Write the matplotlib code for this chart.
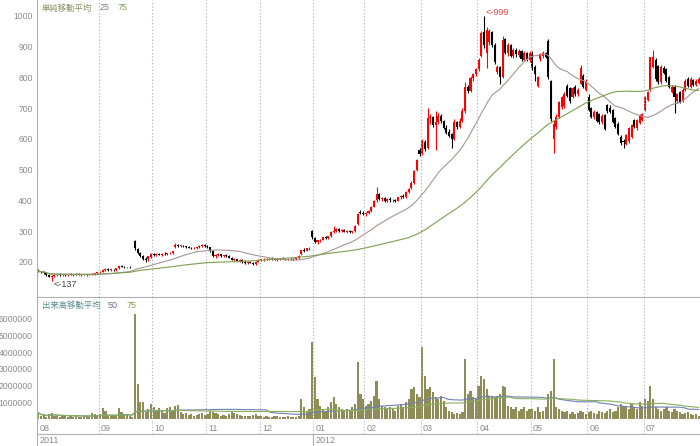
"""
    株価チャート（日足ローソク足＋出来高）の再現
"""
import numpy as np
import pandas as pd
import matplotlib
matplotlib.use('Agg')
import matplotlib.pyplot as plt

plt.rcParams['font.family'] = ['Noto Sans CJK JP', 'DejaVu Sans']

# 営業日（2011/08 - 2012/07、東証休場日を除く）
holidays = ['2011-09-19', '2011-09-23', '2011-10-10', '2011-11-03', '2011-11-23',
            '2011-12-23', '2011-12-30', '2012-01-02', '2012-01-03', '2012-01-09',
            '2012-03-20', '2012-04-30', '2012-05-03', '2012-05-04', '2012-07-16']
dates = pd.bdate_range('2011-08-01', '2012-07-31')
dates = dates[~dates.isin(pd.to_datetime(holidays))]

# 四本値（月ごとに1行）
opens = [
    172, 170, 167, 163, 157, 150, 155, 157, 160, 157, 159, 158, 160, 158, 161, 160, 158, 160, 158, 159, 160, 161, 163,
    166, 168, 174, 178, 174, 175, 173, 179, 186, 184, 182, 183, 228, 268, 242, 230, 218, 210, 208, 216,
    226, 222, 226, 223, 227, 225, 228, 230, 248, 256, 252, 253, 251, 248, 247, 245, 246, 248, 252, 256,
    252, 248, 236, 218, 222, 225, 218, 221, 219, 214, 207, 209, 204, 206, 200, 197, 201, 198, 193, 201,
    206, 208, 210, 209, 211, 210, 207, 210, 212, 210, 208, 211, 209, 208, 212, 225, 238, 236, 244, 300,
    278, 265, 270, 272, 280, 278, 284, 298, 300, 306, 300, 303, 299, 301, 296, 300, 322, 362, 360,
    356, 358, 366, 380, 400, 420, 404, 408, 398, 405, 400, 403, 398, 410, 415, 410, 428, 440, 458, 500, 565,
    552, 590, 570, 668, 670, 645, 655, 675, 658, 636, 622, 615, 600, 655, 638, 660, 690, 770, 755, 798, 810,
    826, 870, 948, 880, 915, 948, 906, 818, 834, 800, 925, 880, 905, 870, 890, 872, 885, 858, 880, 858,
    880, 835, 772, 860, 870, 880, 918, 790, 600, 640, 672, 705, 708, 772, 765, 738, 770, 745, 780, 805, 760,
    735, 700, 672, 688, 680, 655, 678, 710, 700, 694, 668, 650, 607, 595, 584, 592, 606, 662, 636, 652, 662,
    695, 727, 758, 835, 858, 836, 786, 832, 826, 802, 752, 770, 722, 752, 725, 760, 796, 770, 792, 776, 782,
]
highs = [
    176, 172, 170, 166, 160, 158, 160, 162, 163, 161, 162, 161, 163, 162, 164, 163, 161, 162, 161, 162, 163, 165, 168,
    170, 176, 180, 180, 177, 178, 180, 188, 190, 186, 185, 186, 228, 270, 245, 232, 222, 215, 220, 228,
    230, 228, 229, 228, 231, 230, 233, 236, 262, 258, 256, 256, 253, 252, 250, 249, 250, 255, 260, 258,
    254, 250, 238, 225, 228, 227, 224, 226, 222, 216, 212, 211, 210, 208, 205, 203, 204, 200, 203, 208,
    210, 212, 214, 213, 215, 213, 212, 214, 215, 213, 212, 214, 212, 213, 222, 240, 244, 246, 250, 305,
    280, 272, 275, 282, 285, 286, 300, 318, 310, 310, 306, 306, 304, 303, 302, 320, 360, 370, 365,
    362, 370, 382, 402, 444, 424, 412, 410, 408, 410, 406, 406, 412, 418, 422, 430, 440, 462, 500, 535, 570,
    600, 596, 700, 680, 675, 690, 685, 680, 662, 645, 632, 620, 665, 660, 668, 700, 785, 775, 805, 815, 832,
    862, 950, 999, 965, 958, 952, 912, 840, 838, 935, 930, 912, 910, 895, 895, 892, 888, 885, 884, 885,
    885, 840, 805, 880, 885, 884, 925, 792, 662, 680, 725, 740, 752, 778, 770, 770, 775, 765, 842, 810, 795,
    745, 705, 695, 692, 686, 680, 680, 715, 712, 698, 672, 655, 612, 600, 616, 640, 650, 666, 665, 680, 685,
    740, 756, 868, 890, 862, 840, 842, 838, 830, 806, 775, 775, 750, 756, 765, 795, 800, 800, 796, 795, 800,
]
lows = [
    168, 165, 162, 155, 150, 137, 150, 154, 155, 153, 155, 154, 156, 155, 157, 156, 155, 156, 155, 156, 157, 158, 160,
    163, 166, 170, 172, 170, 171, 172, 177, 182, 179, 179, 180, 228, 240, 225, 215, 205, 200, 204, 212,
    218, 219, 221, 220, 223, 222, 225, 226, 246, 250, 248, 249, 246, 245, 243, 242, 243, 246, 249, 250,
    245, 232, 215, 214, 218, 216, 215, 217, 212, 205, 203, 202, 200, 198, 194, 192, 195, 190, 191, 199,
    203, 204, 206, 205, 207, 205, 204, 206, 208, 206, 205, 207, 205, 206, 210, 224, 232, 234, 240, 275,
    262, 260, 266, 270, 275, 276, 282, 295, 296, 298, 297, 297, 295, 294, 294, 298, 320, 355, 352,
    350, 355, 362, 378, 396, 400, 398, 395, 394, 396, 394, 396, 397, 405, 408, 408, 425, 436, 455, 495, 545,
    548, 560, 566, 648, 640, 565, 648, 652, 632, 615, 605, 570, 596, 632, 635, 655, 685, 750, 752, 790, 805,
    820, 865, 895, 830, 905, 900, 845, 812, 780, 798, 875, 870, 865, 862, 868, 865, 855, 852, 852, 850,
    825, 790, 768, 855, 862, 862, 795, 660, 555, 632, 668, 698, 702, 735, 718, 732, 740, 740, 778, 765, 755,
    690, 668, 665, 655, 648, 650, 628, 686, 684, 652, 636, 612, 582, 570, 580, 588, 602, 636, 630, 648, 658,
    690, 722, 755, 830, 790, 780, 780, 812, 785, 765, 748, 685, 718, 716, 720, 756, 768, 765, 772, 772, 778,
]
closes = [
    170, 167, 164, 158, 152, 155, 158, 160, 157, 159, 158, 160, 158, 161, 160, 158, 160, 158, 159, 160, 161, 163, 166,
    168, 174, 178, 174, 175, 173, 179, 186, 185, 182, 183, 182, 228, 245, 228, 218, 210, 205, 218, 225,
    222, 226, 223, 227, 225, 228, 230, 234, 256, 252, 253, 251, 248, 247, 245, 246, 248, 252, 256, 252,
    248, 235, 218, 222, 225, 218, 221, 219, 214, 207, 209, 204, 206, 200, 197, 201, 198, 193, 201, 206,
    208, 210, 209, 211, 210, 207, 210, 212, 210, 208, 211, 209, 208, 212, 220, 238, 236, 244, 247, 280,
    265, 270, 272, 280, 278, 284, 298, 300, 306, 300, 303, 299, 301, 296, 300, 318, 355, 360, 356,
    358, 366, 378, 398, 422, 404, 408, 398, 405, 400, 403, 398, 410, 415, 410, 428, 436, 458, 495, 530, 550,
    592, 566, 668, 672, 645, 655, 675, 658, 636, 620, 610, 600, 655, 638, 660, 690, 770, 755, 798, 810, 826,
    856, 945, 905, 955, 950, 906, 850, 834, 800, 922, 880, 905, 870, 890, 875, 885, 860, 880, 858, 878,
    830, 810, 800, 875, 880, 868, 800, 665, 650, 672, 720, 735, 745, 740, 722, 765, 745, 760, 830, 770, 790,
    695, 672, 688, 660, 655, 675, 632, 690, 688, 656, 640, 615, 586, 590, 612, 635, 646, 640, 662, 676, 680,
    737, 753, 865, 866, 795, 785, 835, 816, 790, 770, 770, 735, 746, 720, 760, 790, 772, 795, 776, 790, 795,
]
# 出来高（株）
volumes = [
    380000, 150000, 220000, 100000, 300000, 380000, 200000, 150000, 100000, 200000, 150000, 120000,
    180000, 100000, 150000, 120000, 100000, 200000, 150000, 100000, 330000, 300000, 250000,
    300000, 650000, 500000, 250000, 200000, 250000, 200000, 650000, 400000, 300000, 300000, 150000,
    100000, 6300000, 2100000, 1000000, 1000000, 400000, 600000, 900000,
    700000, 500000, 650000, 550000, 350000, 650000, 700000, 500000, 800000, 850000, 400000, 300000,
    350000, 250000, 300000, 200000, 250000, 300000, 350000, 250000,
    300000, 450000, 400000, 350000, 300000, 200000, 250000, 200000, 300000, 400000, 350000, 300000,
    250000, 200000, 150000, 200000, 150000, 250000, 300000, 200000,
    150000, 100000, 150000, 120000, 100000, 200000, 150000, 100000, 120000, 100000, 150000, 100000,
    120000, 100000, 150000, 1200000, 700000, 500000, 600000, 4600000,
    2500000, 1200000, 800000, 600000, 500000, 700000, 1000000, 1300000, 900000, 700000, 600000, 500000,
    600000, 500000, 700000, 900000, 3400000, 1500000, 1200000,
    800000, 900000, 1100000, 1400000, 2300000, 1200000, 800000, 700000, 600000, 700000, 600000, 500000,
    800000, 900000, 700000, 1000000, 1200000, 1800000, 1900000, 1500000, 1300000,
    4300000, 2600000, 1800000, 1900000, 1600000, 1300000, 1200000, 1400000, 1100000, 700000, 500000,
    400000, 300000, 350000, 300000, 400000, 3600000, 1500000, 1700000, 1300000, 1200000,
    2000000, 2600000, 2400000, 1800000, 1400000, 1400000, 1300000, 1400000, 1500000, 2000000, 1900000,
    800000, 700000, 600000, 700000, 500000, 600000, 700000, 500000, 600000,
    600000, 500000, 700000, 400000, 500000, 700000, 1500000, 1700000, 3600000, 700000, 600000, 500000,
    400000, 500000, 300000, 400000, 300000, 350000, 500000, 400000, 300000,
    400000, 500000, 350000, 300000, 450000, 400000, 350000, 500000, 600000, 400000, 500000, 700000,
    900000, 800000, 700000, 600000, 900000, 700000, 600000, 1000000, 800000,
    1200000, 1100000, 2000000, 1200000, 700000, 600000, 500000, 600000, 700000, 500000, 400000, 600000,
    500000, 400000, 300000, 350000, 400000, 300000, 250000, 300000, 200000,
]

price_ma_windows = [25, 75]
volume_ma_windows = [50, 75]

n = len(dates)
assert len(opens) == len(highs) == len(lows) == len(closes) == len(volumes) == n

o = np.array(opens, dtype=float)
h = np.array(highs, dtype=float)
l = np.array(lows, dtype=float)
c = np.array(closes, dtype=float)
v = np.array(volumes, dtype=float)
x = np.arange(n)

W, H = 700, 446
fig = plt.figure(figsize=(W / 100, H / 100), dpi=100)
ax_p = fig.add_axes([37 / W, 1 - 297 / H, 663 / W, 297 / H])
ax_v = fig.add_axes([37 / W, 1 - 422 / H, 663 / W, 124 / H])
ax_d = fig.add_axes([37 / W, 0, 663 / W, 24 / H])

num_font = ['Liberation Sans', 'DejaVu Sans']
grid_kw = dict(color='#aaaaaa', lw=0.8, linestyle=(0, (1, 2)))
line_col = '#b0b0b0'
tick_col = '#8a8a8a'

# ローソク足
up = c >= o
cols = np.where(up, '#ff0000', '#000000')
ax_p.vlines(x, l, h, colors=cols, lw=0.8)
ax_p.bar(x, np.maximum(np.abs(c - o), 2), bottom=np.minimum(o, c), width=0.75,
         color=cols, linewidth=0)

# 移動平均
cs = pd.Series(c)
ax_p.plot(x, cs.rolling(price_ma_windows[0], min_periods=1).mean(), color='#a89494', lw=0.8)
ax_p.plot(x, cs.rolling(price_ma_windows[1], min_periods=1).mean(), color='#7d9e4e', lw=0.8)

# 高値・安値
i_hi = int(np.argmax(h))
i_lo = int(np.argmin(l))
ax_p.annotate('<-%d' % h[i_hi], (i_hi, h[i_hi]), xytext=(1, 3), textcoords='offset points',
              fontsize=6.5, color='#d04848', ha='left', va='center', family=num_font)
ax_p.annotate('<-%d' % l[i_lo], (i_lo, l[i_lo]), xytext=(1, -2), textcoords='offset points',
              fontsize=6.5, color='#444444', ha='left', va='center', family=num_font)

ax_p.set_ylim(86, 1052)
ax_p.set_yticks([200, 300, 400, 500, 600, 700, 800, 900, 1000])

# 出来高
ax_v.bar(x, v, width=0.8, color='#8e8c57', linewidth=0)
vs = pd.Series(v)
ax_v.plot(x, vs.rolling(volume_ma_windows[0], min_periods=1).mean(), color='#7080b0', lw=0.8)
ax_v.plot(x, vs.rolling(volume_ma_windows[1], min_periods=1).mean(), color='#8aae5a', lw=0.8)
ax_v.set_ylim(-0.18e6, 7.25e6)
ax_v.set_yticks([1000000, 2000000, 3000000, 4000000, 5000000, 6000000])
ax_v.set_yticklabels(['%d' % t for t in ax_v.get_yticks()])

# 月区切り
month_start = np.where(dates.month != np.roll(dates.month, 1))[0]
for a in (ax_p, ax_v, ax_d):
    a.set_xlim(-0.5, n - 0.5)
    a.set_xticks([])
    for s in ('top', 'right'):
        a.spines[s].set_visible(False)
    a.spines['left'].set_color(line_col)
    a.spines['bottom'].set_color(line_col)
    a.tick_params(axis='y', length=0, pad=3, labelsize=6.2, labelcolor=tick_col)
    for t in a.get_yticklabels():
        t.set_fontfamily(num_font)
for i in month_start[1:]:
    ax_p.axvline(i - 0.5, **grid_kw)
    ax_v.axvline(i - 0.5, **grid_kw)
    ax_d.axvline(i - 0.5, ymin=0.5, ymax=1, **grid_kw)

ax_d.set_ylim(0, 1)
ax_d.set_yticks([])
ax_d.spines['bottom'].set_visible(False)
ax_d.axhline(0.5, color=line_col, lw=0.8)
for i in month_start:
    ax_d.text(i - 0.5 + 0.8, 0.74, dates[i].strftime('%m'), fontsize=6.5,
              color=tick_col, ha='left', va='center', family=num_font)
year_start = np.where(dates.year != np.roll(dates.year, 1))[0]
for i in year_start:
    ax_d.text(i - 0.5 + 0.8, 0.24, str(dates[i].year), fontsize=6.5,
              color=tick_col, ha='left', va='center', family=num_font)
    if i > 0:
        ax_d.axvline(i - 0.5, ymin=0, ymax=0.5, color=line_col, lw=0.8)

# 凡例テキスト
fig.text(42 / W, 1 - 8 / H, '単純移動平均', fontsize=6, color='#8c8c62', va='center')
fig.text(100 / W, 1 - 8 / H, str(price_ma_windows[0]), fontsize=6.5, color='#8c7c7c',
         va='center', family=num_font)
fig.text(118 / W, 1 - 8 / H, str(price_ma_windows[1]), fontsize=6.5, color='#7d9e4e',
         va='center', family=num_font)
fig.text(42 / W, 1 - 305 / H, '出来高移動平均', fontsize=6, color='#5a8a8a', va='center')
fig.text(108 / W, 1 - 305 / H, str(volume_ma_windows[0]), fontsize=6.5, color='#6a6aa0',
         va='center', family=num_font)
fig.text(127 / W, 1 - 305 / H, str(volume_ma_windows[1]), fontsize=6.5, color='#7d9e4e',
         va='center', family=num_font)

fig.savefig('out.png', dpi=100)
